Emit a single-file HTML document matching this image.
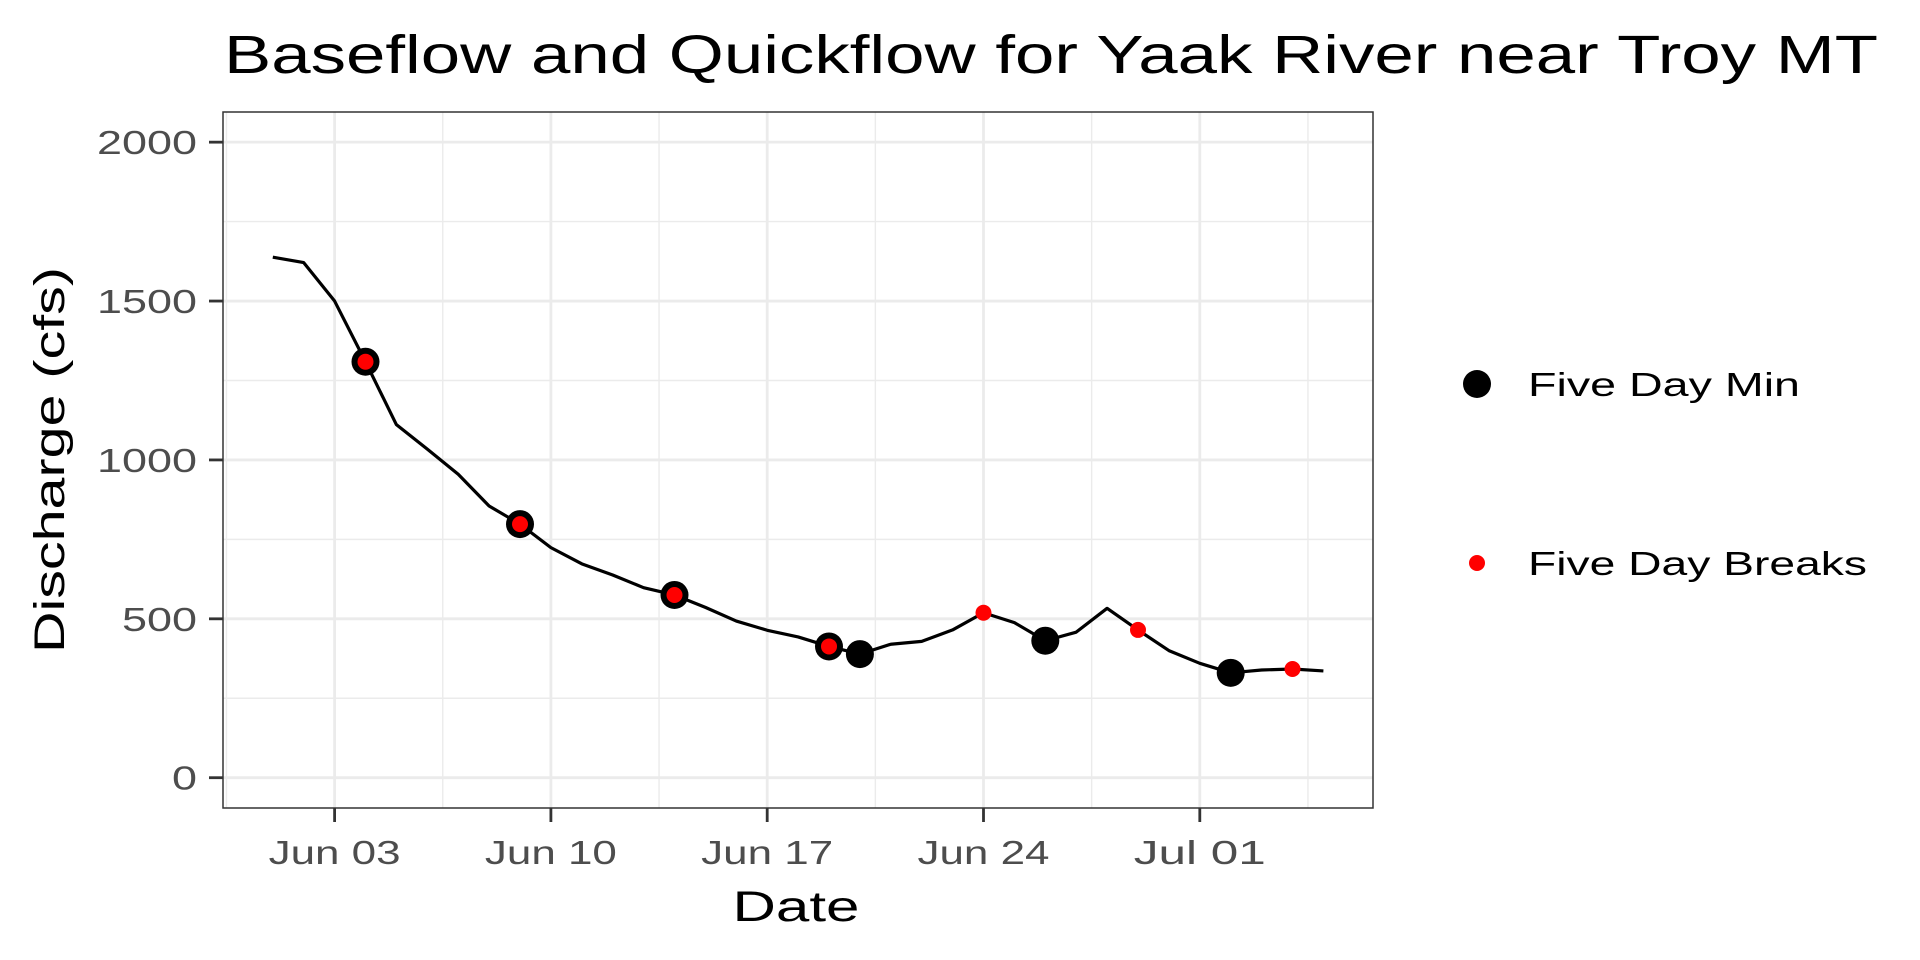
<!DOCTYPE html>
<html><head><meta charset="utf-8"><style>
html,body{margin:0;padding:0;background:#fff;}
svg{display:block;font-family:"Liberation Sans",sans-serif;}
</style></head><body>
<svg id="chart" width="1920" height="960" viewBox="0 0 1920 960" xmlns="http://www.w3.org/2000/svg">
<text x="224" y="73" font-size="54" fill="#000" textLength="1654" lengthAdjust="spacingAndGlyphs">Baseflow and Quickflow for Yaak River near Troy MT</text>
<g id="grid"></g>
<g id="marks"></g>
<rect x="223" y="112" width="1150" height="696" fill="none" stroke="#333" stroke-width="1.5"/>
<g id="axes"></g>
<text x="796" y="921" font-size="43" text-anchor="middle" fill="#000" textLength="127" lengthAdjust="spacingAndGlyphs">Date</text>
<text transform="translate(64,460) rotate(-90)" font-size="43" text-anchor="middle" fill="#000" textLength="386" lengthAdjust="spacingAndGlyphs">Discharge (cfs)</text>
<g>
<circle cx="1477" cy="384" r="14" fill="#000"/>
<text x="1528" y="396" font-size="33" fill="#000" textLength="272" lengthAdjust="spacingAndGlyphs">Five Day Min</text>
<circle cx="1477" cy="563" r="8" fill="#f00"/>
<text x="1528" y="575" font-size="33" fill="#000" textLength="339" lengthAdjust="spacingAndGlyphs">Five Day Breaks</text>
</g>
</svg>
<script>
// day offsets from Jun 01
const flowDays = [0,1,2,3,4,5,6,7,8,9,10,11,12,13,14,15,16,17,18,19,20,21,22,23,24,25,26,27,28,29,30,31,32,33,34];
const flowValues = [1638,1621,1500,1309,1111,1034,955,855,798,724,673,638,598,575,536,493,464,443,413,389,420,429,465,519,488,431,458,533,465,400,360,330,339,342,336];
const minDays = [3,8,13,18,19,25,31];
const minValues = [1309,798,575,413,389,431,330];
const breakDays = [3,8,13,18,23,28,33];
const breakValues = [1309,798,575,413,519,465,342];
const xTickDays = [2,9,16,23,30];
const xTickLabels = ["Jun 03","Jun 10","Jun 17","Jun 24","Jul 01"];
const yTicks = [0,500,1000,1500,2000];

const NS="http://www.w3.org/2000/svg";
const X0=272.8, DX=30.9;
const xs=d=>X0+d*DX;
const ys=v=>777.7-v*0.31777;
function mk(tag,attrs,parent){const e=document.createElementNS(NS,tag);for(const k in attrs)e.setAttribute(k,attrs[k]);parent.appendChild(e);return e;}
const grid=document.getElementById('grid'),marks=document.getElementById('marks'),axes=document.getElementById('axes');
mk('rect',{x:223,y:112,width:1150,height:696,fill:'#fff'},grid);
for(let i=0;i<yTicks.length-1;i++){const v=(yTicks[i]+yTicks[i+1])/2;const l=mk('line',{x1:223,x2:1373,y1:ys(v),y2:ys(v),stroke:'#ebebeb','stroke-width':1.4},grid);

}
for(let i=-1;i<xTickDays.length;i++){const d=(i<0?xTickDays[0]-3.5:xTickDays[i]+3.5);const x=xs(d);if(x<223||x>1373)continue;const l=mk('line',{x1:x,x2:x,y1:112,y2:808,stroke:'#ebebeb','stroke-width':1.4},grid);

}
yTicks.forEach(v=>{const l=mk('line',{x1:223,x2:1373,y1:ys(v),y2:ys(v),stroke:'#ebebeb','stroke-width':2.8},grid);


const t=mk('line',{x1:209,x2:223,y1:ys(v),y2:ys(v),stroke:'#333','stroke-width':2.8},axes);


const tx=mk('text',{x:197,y:ys(v)+12,'font-size':33,'text-anchor':'end',fill:'#4d4d4d',textLength:String(v).length*25,lengthAdjust:'spacingAndGlyphs'},axes);tx.textContent=v;

});
xTickDays.forEach((d,i)=>{const x=xs(d);const l=mk('line',{x1:x,x2:x,y1:112,y2:808,stroke:'#ebebeb','stroke-width':2.8},grid);


const t=mk('line',{x1:x,x2:x,y1:808,y2:822,stroke:'#333','stroke-width':2.8},axes);


const tx=mk('text',{x:x,y:864,'font-size':33,'text-anchor':'middle',fill:'#4d4d4d',textLength:xTickLabels[i].length*22,lengthAdjust:'spacingAndGlyphs'},axes);tx.textContent=xTickLabels[i];

});
const line=mk('polyline',{points:flowDays.map((d,i)=>xs(d)+','+ys(flowValues[i])).join(' '),fill:'none',stroke:'#000','stroke-width':3.2,'stroke-linejoin':'round'},marks);


minDays.forEach((d,i)=>{const c=mk('circle',{cx:xs(d),cy:ys(minValues[i]),r:14,fill:'#000'},marks);

});
breakDays.forEach((d,i)=>{const c=mk('circle',{cx:xs(d),cy:ys(breakValues[i]),r:8,fill:'#f00'},marks);

});
</script>
</body></html>
